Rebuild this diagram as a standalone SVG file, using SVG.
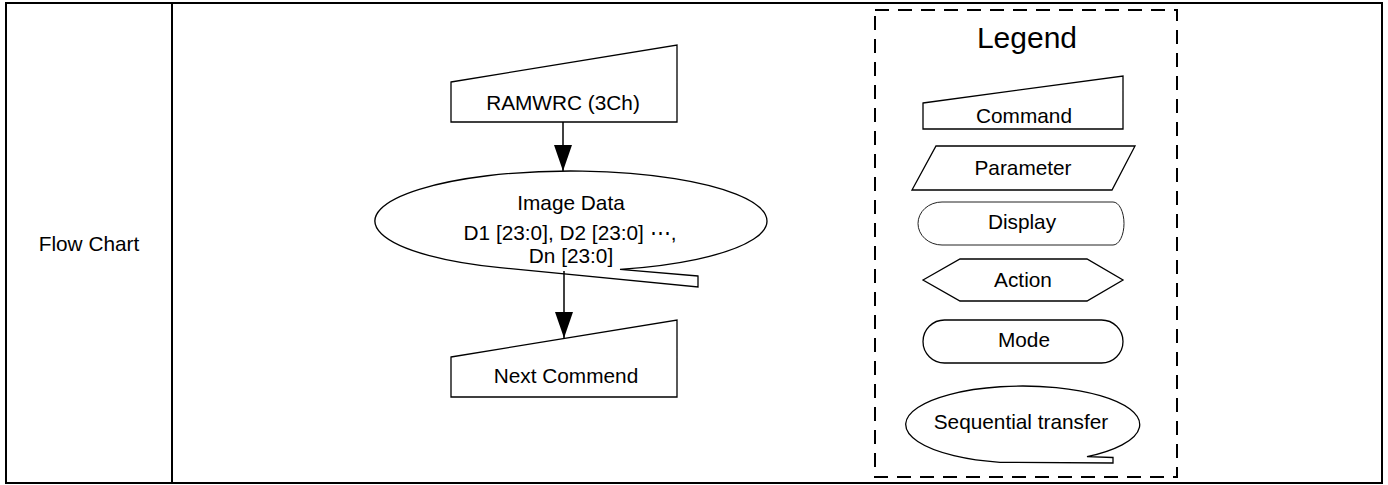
<svg xmlns="http://www.w3.org/2000/svg" width="1388" height="485" viewBox="0 0 1388 485">
<style>
.frame{fill:none;stroke:#000;stroke-width:2}
.shape{fill:#fff;stroke:#000;stroke-width:1.3}
.thin{fill:#fff;stroke:#222;stroke-width:1}
.dash{fill:none;stroke:#000;stroke-width:2;stroke-dasharray:14 9}
.conn{stroke:#000;stroke-width:1.5;fill:none}
text{font-family:"Liberation Sans",Arial,sans-serif;font-size:20.8px;fill:#000;text-anchor:middle}
.big{font-size:30px}
</style>
<defs>
<marker id="arrow" viewBox="0 0 26 18" refX="26" refY="9" markerWidth="26" markerHeight="18" markerUnits="userSpaceOnUse" orient="auto">
<path d="M0,0 L26,9 L0,18 Z" fill="#000"/>
</marker>
</defs>
<rect fill="#fff" x="0" y="0" width="1388" height="485"/>
<g id="table">
<rect class="frame" x="6" y="3" width="1376" height="480"/>
<line class="frame" x1="172" y1="3" x2="172" y2="483"/>
<text x="89" y="251">Flow Chart</text>
</g>
<g id="node-ramwrc">
<polygon class="shape" points="451,82 677,45 677,122 451,122"/>
<text x="563" y="110">RAMWRC (3Ch)</text>
</g>
<g id="node-image-data">
<path class="shape" d="M698,276 L620,269.4 A196,50 0 1 0 500,267.6 L698,287 Z"/>
<text x="571" y="210">Image Data</text>
<text x="570" y="240">D1 [23:0], D2 [23:0] ⋯,</text>
<text x="571" y="263">Dn [23:0]</text>
</g>
<g id="node-next">
<polygon class="shape" points="451,357 677,320 677,397 451,397"/>
<text x="566" y="383">Next Commend</text>
</g>
<g id="connectors">
<line class="conn" x1="563" y1="122" x2="563" y2="171" marker-end="url(#arrow)"/>
<line class="conn" x1="564" y1="271" x2="564" y2="338" marker-end="url(#arrow)"/>
</g>
<g id="legend">
<rect class="dash" x="875" y="10" width="302" height="467"/>
<text class="big" x="1027" y="48">Legend</text>
<g id="legend-command">
<polygon class="shape" points="923,103 1123,76 1123,129 923,129"/>
<text x="1024" y="123">Command</text>
</g>
<g id="legend-parameter">
<polygon class="shape" points="936,146 1135,146 1112,190 912,190"/>
<text x="1023" y="175">Parameter</text>
</g>
<g id="legend-display">
<path class="thin" d="M942,202 H1113 A11,21.5 0 0 1 1113,245 H942 A24,21.5 0 0 1 942,202 Z"/>
<text x="1022" y="229">Display</text>
</g>
<g id="legend-action">
<polygon class="shape" points="923,280 960,259 1087,259 1123,280 1087,301 960,301"/>
<text x="1023" y="287">Action</text>
</g>
<g id="legend-mode">
<rect class="shape" x="923" y="320" width="200" height="43" rx="21.5" ry="21.5"/>
<text x="1024" y="347">Mode</text>
</g>
<g id="legend-sequential">
<path class="shape" d="M1113,457.5 L1087,456.7 A117,38.5 0 1 0 1000,462.3 L1113,463 Z"/>
<text x="1021" y="429">Sequential transfer</text>
</g>
</g>
</svg>
